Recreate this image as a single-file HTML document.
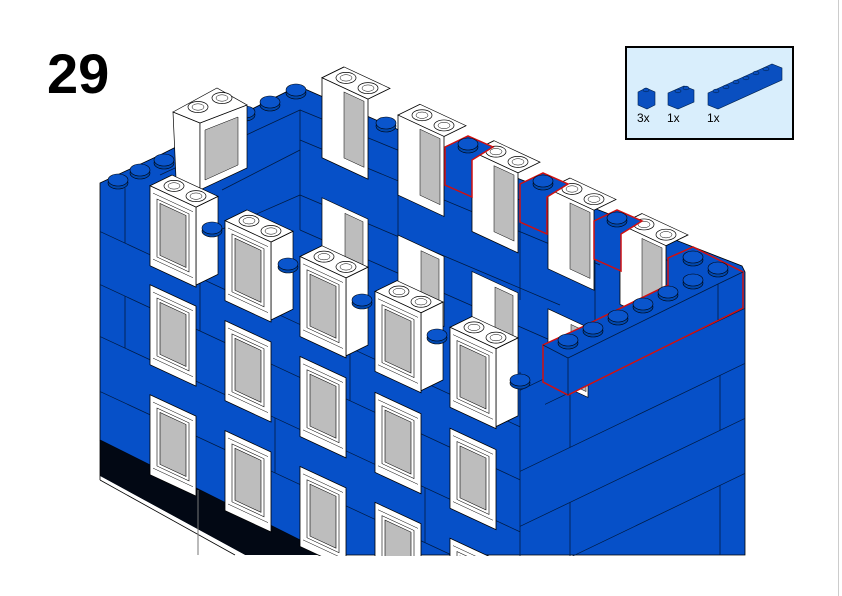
<!DOCTYPE html>
<html><head><meta charset="utf-8"><style>
html,body{margin:0;padding:0;background:#fff;width:842px;height:596px;overflow:hidden;}
svg{display:block;}
</style></head><body>
<svg width="842" height="596" viewBox="0 0 842 596" xmlns="http://www.w3.org/2000/svg" font-family="Liberation Sans, sans-serif">
<defs>
  <g id="wstud">
    <ellipse cx="0" cy="0" rx="10" ry="5.5" fill="#fff" stroke="#000" stroke-width="0.7"/>
    <ellipse cx="0" cy="0" rx="6" ry="3.2" fill="none" stroke="#000" stroke-width="0.5"/>
  </g>
  <g id="win">
    <rect x="0" y="0" width="46" height="80" fill="#fff" stroke="#000" stroke-width="0.8"/>
    <rect x="7" y="10" width="32" height="58" fill="#fff" stroke="#000" stroke-width="0.6"/>
    <rect x="10" y="13" width="26" height="52" fill="#bdbdbd" stroke="#000" stroke-width="0.6"/>
    <line x1="3" y1="72" x2="43" y2="72" stroke="#000" stroke-width="0.5"/>
    <line x1="3" y1="6" x2="43" y2="6" stroke="#000" stroke-width="0.5"/>
  </g>
  <g id="wintop">
    <polygon points="46,0 68,-21 68,57 46,78" fill="#fff" stroke="#000" stroke-width="0.7"/>
    <polygon points="0,0 46,0 68,-21 22,-21" fill="#fff" stroke="#000" stroke-width="0.7"/>
    <use href="#win"/>
    <g transform="translate(24,-11) matrix(1,-0.465,0,1,0,0)"><use href="#wstud"/></g>
    <g transform="translate(46,-11) matrix(1,-0.465,0,1,0,0)"><use href="#wstud"/></g>
  </g>
  <g id="backwin">
    <polygon points="0,0 46,0 68,-21 22,-21" fill="#fff" stroke="#000" stroke-width="0.7"/>
    <rect x="0" y="0" width="46" height="80" fill="#fff" stroke="#000" stroke-width="0.8"/>
    <rect x="22" y="4" width="20" height="66" fill="#bdbdbd" stroke="#000" stroke-width="0.5"/>
    <g transform="translate(24,-11) matrix(1,-0.465,0,1,0,0)"><use href="#wstud"/></g>
    <g transform="translate(46,-11) matrix(1,-0.465,0,1,0,0)"><use href="#wstud"/></g>
  </g>
  <g id="stud">
    <ellipse cx="0" cy="3" rx="10" ry="6" fill="#0048b0" stroke="#000" stroke-width="0.6"/>
    <ellipse cx="0" cy="0" rx="10" ry="6" fill="#0a55cc" stroke="#000" stroke-width="0.6"/>
  </g>
</defs>

<line x1="838.5" y1="0" x2="838.5" y2="596" stroke="#ccc" stroke-width="1"/>

<text x="47" y="93" font-size="56" font-weight="bold" fill="#000">29</text>

<!-- parts box -->
<rect x="626" y="47" width="167" height="92" fill="#d9eefc" stroke="#000" stroke-width="2"/>
<g stroke="#00204a" stroke-width="0.6" fill="#0a4fc0">
  <polygon points="638,92 646,88 655,92 655,105 647,109 638,105"/>
  <polygon points="668,93 684,86 694,90 694,102 678,109 668,105"/>
  <polygon points="708,93 772,64 782,68 782,80 718,109 708,105"/>
  <ellipse cx="646" cy="90" rx="3" ry="1.8"/>
  <ellipse cx="678" cy="91" rx="3" ry="1.8"/><ellipse cx="686" cy="88" rx="3" ry="1.8"/>
  <ellipse cx="716" cy="91" rx="3" ry="1.8"/><ellipse cx="726" cy="87" rx="3" ry="1.8"/>
  <ellipse cx="736" cy="82" rx="3" ry="1.8"/><ellipse cx="746" cy="78" rx="3" ry="1.8"/>
  <ellipse cx="756" cy="73" rx="3" ry="1.8"/><ellipse cx="766" cy="69" rx="3" ry="1.8"/>
</g>
<text x="637" y="122" font-size="12">3x</text>
<text x="667" y="122" font-size="12">1x</text>
<text x="707" y="122" font-size="12">1x</text>

<polygon points="100,183 160,155 230,120 298,86 330,100 445,150 742,266 745,272 745,555 330,555 100,440" fill="#0650c8" stroke="#000" stroke-width="0.8"/>

<polygon points="100,440 330,555 245,555 100,476" fill="#020814"/>
<polygon points="100,476 245,555 100,555" fill="#fff"/>
<line x1="100" y1="480" x2="235" y2="555" stroke="#000" stroke-width="0.8"/>
<line x1="100" y1="440" x2="100" y2="480" stroke="#000" stroke-width="0.8"/>
<line x1="198" y1="490" x2="198" y2="555" stroke="#777" stroke-width="1"/>

<g stroke="#001a40" stroke-width="0.8" fill="none">
  <polyline points="160,175 300,110 300,230"/>
  <line x1="300" y1="110" x2="740" y2="290"/>
  <line x1="300" y1="140" x2="600" y2="265"/>
  <line x1="220" y1="230" x2="300" y2="195"/>
  <line x1="300" y1="230" x2="550" y2="340"/>
  <line x1="300" y1="195" x2="560" y2="305"/>
  <line x1="222" y1="190" x2="300" y2="150"/>
  <line x1="398" y1="150" x2="398" y2="235"/>
  <line x1="520" y1="220" x2="520" y2="300"/>
  <line x1="595" y1="260" x2="595" y2="320"/>
</g>

<use href="#stud" x="270" y="102"/>
<use href="#stud" x="296" y="90"/>
<use href="#stud" x="245" y="112"/>
<use href="#stud" x="118" y="180"/>
<use href="#stud" x="140" y="170"/>
<use href="#stud" x="164" y="160"/>
<use href="#stud" x="386" y="123"/>
<use href="#stud" x="350" y="160"/>

<!-- back left window -->
<polygon points="173,112 200,123 200,190 176,178" fill="#fff" stroke="#000" stroke-width="0.7"/>
<polygon points="200,123 247,105 247,168 200,190" fill="#fff" stroke="#000" stroke-width="0.7"/>
<polygon points="205,130 238,117 238,165 205,180" fill="#bdbdbd" stroke="#000" stroke-width="0.5"/>
<polygon points="173,112 217,88 247,105 200,123" fill="#fff" stroke="#000" stroke-width="0.7"/>
<use href="#wstud" x="198" y="107"/>
<use href="#wstud" x="222" y="98"/>

<g transform="matrix(1,0.465,0,1,0,0)">
  <use href="#backwin" x="322" y="-72"/>
  <use href="#backwin" x="398" y="-70"/>
  <use href="#backwin" x="472" y="-68"/>
  <use href="#backwin" x="548" y="-66"/>
  <use href="#backwin" x="620" y="-64"/>
  <rect x="322" y="48" width="46" height="70" fill="#fff" stroke="#000" stroke-width="0.7"/>
  <rect x="345" y="53" width="18" height="60" fill="#bdbdbd" stroke="#000" stroke-width="0.5"/>
  <rect x="398" y="50" width="46" height="70" fill="#fff" stroke="#000" stroke-width="0.7"/>
  <rect x="421" y="55" width="18" height="60" fill="#bdbdbd" stroke="#000" stroke-width="0.5"/>
  <rect x="472" y="52" width="46" height="70" fill="#fff" stroke="#000" stroke-width="0.7"/>
  <rect x="495" y="57" width="18" height="60" fill="#bdbdbd" stroke="#000" stroke-width="0.5"/>
  <rect x="548" y="54" width="40" height="70" fill="#fff" stroke="#000" stroke-width="0.7"/>
  <rect x="571" y="59" width="15" height="60" fill="#bdbdbd" stroke="#000" stroke-width="0.5"/>
</g>

<g stroke="#d01010" stroke-width="1.5">
  <polygon points="445,147 468,136 493,147 472,160 472,197 445,185" fill="#0650c8"/>
  <polygon points="520,184 543,173 568,184 547,197 547,234 520,222" fill="#0650c8"/>
  <polygon points="594,221 617,210 642,221 621,234 621,271 594,259" fill="#0650c8"/>
</g>
<use href="#stud" x="468" y="144"/>
<use href="#stud" x="543" y="181"/>
<use href="#stud" x="617" y="218"/>

<g transform="matrix(1,0.465,0,1,0,0)" stroke="#001a40" stroke-width="0.8" fill="none">
  <line x1="100" y1="185" x2="520" y2="185"/>
  <line x1="100" y1="238" x2="520" y2="238"/>
  <line x1="100" y1="290" x2="520" y2="290"/>
  <line x1="100" y1="345" x2="520" y2="345"/>
  <line x1="125" y1="130" x2="125" y2="185"/>
  <line x1="125" y1="238" x2="125" y2="290"/>
  <line x1="200" y1="185" x2="200" y2="238"/>
  <line x1="350" y1="185" x2="350" y2="238"/>
  <line x1="425" y1="290" x2="425" y2="345"/>
  <line x1="275" y1="290" x2="275" y2="345"/>
  <line x1="520" y1="130" x2="520" y2="440"/>
</g>

<g transform="matrix(1,0.465,0,1,0,0)">
  <use href="#wintop" x="150" y="116"/>
  <use href="#wintop" x="225" y="116"/>
  <use href="#wintop" x="300" y="117"/>
  <use href="#wintop" x="375" y="117"/>
  <use href="#wintop" x="450" y="118"/>
  <use href="#win" x="150" y="215"/>
  <use href="#win" x="225" y="216"/>
  <use href="#win" x="300" y="217"/>
  <use href="#win" x="375" y="218"/>
  <use href="#win" x="450" y="219"/>
  <use href="#win" x="150" y="325"/>
  <use href="#win" x="225" y="326"/>
  <use href="#win" x="300" y="327"/>
  <use href="#win" x="375" y="328"/>
  <use href="#win" x="450" y="329"/>
</g>

<use href="#stud" x="212" y="228"/>
<use href="#stud" x="288" y="264"/>
<use href="#stud" x="362" y="300"/>
<use href="#stud" x="437" y="335"/>
<use href="#stud" x="520" y="380"/>

<g transform="matrix(1,-0.48,0,1,0,0)" stroke="#001a40" stroke-width="0.8" fill="none">
  <line x1="545" y1="666" x2="745" y2="666"/>
  <line x1="520" y1="640" x2="570" y2="640"/>
  <line x1="520" y1="721" x2="745" y2="721"/>
  <line x1="520" y1="776" x2="745" y2="776"/>
  <line x1="520" y1="831" x2="745" y2="831"/>
  <line x1="570" y1="666" x2="570" y2="721"/>
  <line x1="720" y1="721" x2="720" y2="776"/>
  <line x1="570" y1="776" x2="570" y2="831"/>
  <line x1="720" y1="831" x2="720" y2="900"/>
</g>

<polygon points="543,345 543,382 568,395 743,308 743,272 693,247 668,258 668,285 582,327" fill="#0650c8" stroke="#d01010" stroke-width="1.5"/>
<line x1="568" y1="358" x2="568" y2="395" stroke="#001a40" stroke-width="0.8"/>
<line x1="543" y1="345" x2="568" y2="358" stroke="#001a40" stroke-width="0.8"/>
<line x1="568" y1="358" x2="718" y2="284" stroke="#001a40" stroke-width="0.8"/>
<line x1="718" y1="284" x2="718" y2="320" stroke="#001a40" stroke-width="0.8"/>
<line x1="718" y1="284" x2="743" y2="272" stroke="#001a40" stroke-width="0.8"/>
<use href="#stud" x="568" y="340"/>
<use href="#stud" x="593" y="328"/>
<use href="#stud" x="618" y="316"/>
<use href="#stud" x="643" y="304"/>
<use href="#stud" x="668" y="292"/>
<use href="#stud" x="693" y="280"/>
<use href="#stud" x="693" y="257"/>
<use href="#stud" x="718" y="268"/>

<rect x="0" y="556" width="838" height="40" fill="#fff"/>
</svg>
</body></html>
